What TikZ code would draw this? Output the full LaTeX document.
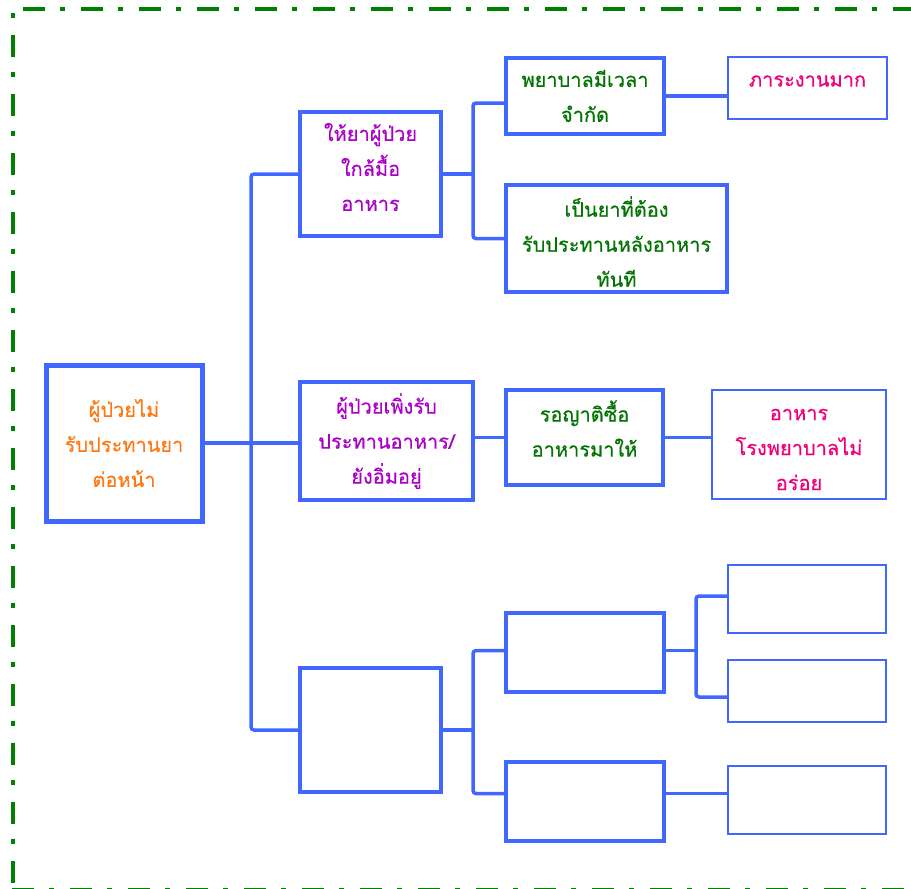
\documentclass[tikz,border=0pt]{standalone}
\usepackage{fontspec}
\newfontfamily\thaifont[Script=Thai,FakeBold=0.4]{Loma}
\definecolor{bl}{RGB}{64,104,255}
\definecolor{torange}{RGB}{255,120,20}
\definecolor{tpurple}{RGB}{170,0,200}
\definecolor{tgreen}{RGB}{0,115,0}
\definecolor{tpink}{RGB}{240,0,120}
\definecolor{fgreen}{RGB}{0,128,0}
\begin{document}
\begin{tikzpicture}[x=1pt,y=-1pt,
  box/.style={draw=bl, fill=white, outer sep=0pt, inner sep=0pt},
  bxa/.style={box, line width=5pt},
  bxb/.style={box, line width=3.5pt},
  bxd/.style={box, line width=2pt},
  txt/.style={inner sep=0pt, align=center, font=\thaifont\fontsize{20}{35}\selectfont},
  conn/.style={draw=bl, line width=3.5pt, rounded corners=3pt},
  frameline/.style={draw=fgreen, line width=4pt, dash pattern=on 22pt off 15pt on 5pt off 16pt}]
\useasboundingbox (0,0) rectangle (911,889);
% frame
\draw[frameline] (23,8.5) -- (930,8.5);
\draw[frameline, dash pattern=on 5pt off 17pt on 22pt off 15pt] (12.5,13) -- (12.5,889);
\draw[frameline] (12,889.5) -- (930,889.5);
% boxes
\node[bxa, minimum width=156pt, minimum height=156pt] (L1) at (124,443) {};
\node[bxb, minimum width=141pt, minimum height=124pt] (L2a) at (370.5,174) {};
\node[bxb, minimum width=173pt, minimum height=118pt] (L2b) at (386.5,441) {};
\node[bxb, minimum width=141pt, minimum height=124pt] (L2c) at (370.5,730) {};
\node[bxb, minimum width=158pt, minimum height=76pt] (L3a1) at (585,96) {};
\node[bxb, minimum width=221pt, minimum height=107pt] (L3a2) at (616.5,238.5) {};
\node[bxb, minimum width=157pt, minimum height=95pt] (L3b) at (584.5,437.5) {};
\node[bxb, minimum width=158pt, minimum height=79pt] (L3c1) at (585,652.5) {};
\node[bxb, minimum width=158pt, minimum height=79pt] (L3c2) at (585,801.5) {};
\node[bxd, minimum width=159pt, minimum height=62pt] (L4a) at (807.5,88) {};
\node[bxd, minimum width=174pt, minimum height=109pt] (L4b) at (799,444.5) {};
\node[bxd, minimum width=158pt, minimum height=68pt] (L4c1) at (807,599) {};
\node[bxd, minimum width=158pt, minimum height=62pt] (L4c2) at (807,691) {};
\node[bxd, minimum width=158pt, minimum height=68pt] (L4c3) at (807,800) {};
% texts
\node[txt, text=torange] (T1) at (L1.center) {ผู้ป่วยไม่\\รับประทานยา\\ต่อหน้า};
\node[txt, text=tpurple] (T2a) at ([yshift=7pt]L2a.center) {ให้ยาผู้ป่วย\\ใกล้มื้อ\\อาหาร};
\node[txt, text=tpurple] (T2b) at (L2b.center) {ผู้ป่วยเพิ่งรับ\\ประทานอาหาร/\\ยังอิ่มอยู่};
\node[txt, text=tgreen] (T3a1) at (L3a1.center) {พยาบาลมีเวลา\\จำกัด};
\node[txt, text=tgreen] (T3a2) at ([yshift=-3pt]L3a2.center) {เป็นยาที่ต้อง\\รับประทานหลังอาหาร\\ทันที};
\node[txt, text=tgreen] (T3b) at ([yshift=9pt]L3b.center) {รอญาติซื้อ\\อาหารมาให้};
\node[txt, text=tpink] (T4a) at ([yshift=7pt]L4a.center) {ภาระงานมาก};
\node[txt, text=tpink] (T4b) at ([yshift=-5pt]L4b.center) {อาหาร\\โรงพยาบาลไม่\\อร่อย};
% connectors
\draw[conn] (L1.east) -- (L1.east -| L2b.west);
\draw[conn] (L2a.west) -- ++(-49,0) |- (L2c.west);
\draw[conn] (L2a.east) -- ++(32,0) coordinate (j1);
\draw[conn] ([yshift=-7pt]L3a1.west) -| (j1) |- (L3a2.west);
\draw[conn] (L3a1.east) -- (L3a1.east -| L4a.west);
\draw[conn] (L3b.west -| L2b.east) -- (L3b.west);
\draw[conn] (L3b.east) -- (L3b.east -| L4b.west);
\draw[conn] (L2c.east) -- ++(32,0) coordinate (j2);
\draw[conn] ([yshift=2pt]L3c1.west) -| (j2) |- ([yshift=8pt]L3c2.west);
\draw[conn] ([yshift=2pt]L3c1.east) -- ++(32,0) coordinate (j3);
\draw[conn] ([yshift=3pt]L4c1.west) -| (j3) |- ([yshift=-6pt]L4c2.west);
\draw[conn] ([yshift=8pt]L3c2.east) -- ([yshift=8pt]L3c2.east -| L4c3.west);
\end{tikzpicture}
\end{document}
